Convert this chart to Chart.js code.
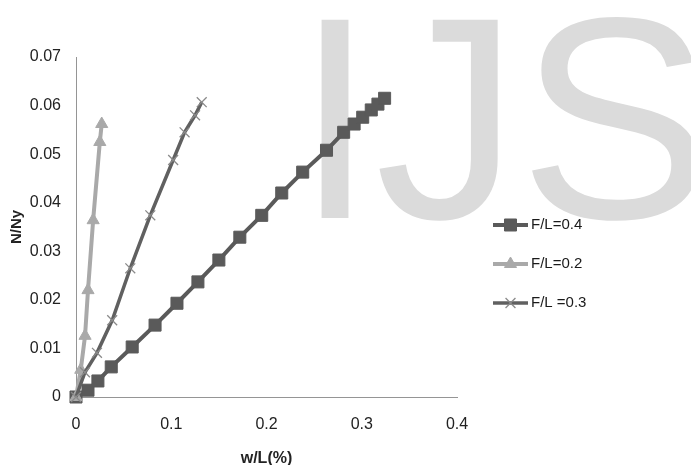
<!DOCTYPE html>
<html>
<head>
<meta charset="utf-8">
<title>N/Ny vs w/L</title>
<script src="https://cdn.jsdelivr.net/npm/chart.js@4/dist/chart.umd.min.js"></script>
<style>
    html, body { margin: 0; padding: 0; background: #fff; }
    #wrap { position: relative; width: 691px; height: 465px; overflow: hidden; }
    #mark { position: absolute; left: 0; top: 0; z-index: 0; }
    #plot { position: absolute; left: 0; top: 0; z-index: 1; }
</style>
</head>
<body>
<div id="wrap">
    <svg id="mark" width="691" height="465">
        <text x="295" y="218" font-family="Liberation Sans, Arial, sans-serif" font-size="288" fill="#dbdbdb">IJS</text>
    </svg>
    <canvas id="plot" width="691" height="465"></canvas>
</div>
<script>
// series labels
const seriesNames = ['F/L=0.4', 'F/L=0.2', 'F/L =0.3'];

// F/L = 0.4
const wL04 = [0, 0.0126, 0.023, 0.037, 0.059, 0.083, 0.106, 0.128, 0.150, 0.172, 0.195, 0.216, 0.238, 0.263, 0.281, 0.292, 0.301, 0.310, 0.317, 0.324];
const nNy04 = [0, 0.0014, 0.0033, 0.0062, 0.0103, 0.0148, 0.0193, 0.0237, 0.0282, 0.0329, 0.0374, 0.0420, 0.0463, 0.0508, 0.0545, 0.0562, 0.0576, 0.0591, 0.0603, 0.0615];

// F/L = 0.2
const wL02 = [0, 0.005, 0.0095, 0.0126, 0.018, 0.025, 0.027];
const nNy02 = [0, 0.0056, 0.0126, 0.0220, 0.0364, 0.0525, 0.0562];

// F/L = 0.3
const wL03 = [0, 0.0094, 0.022, 0.038, 0.057, 0.078, 0.102, 0.114, 0.125, 0.132];
const nNy03 = [0, 0.0051, 0.0091, 0.0158, 0.0265, 0.0374, 0.0488, 0.0545, 0.0580, 0.0607];

// axis tick labels
const xTickLabels = ['0', '0.1', '0.2', '0.3', '0.4'];
const yTickLabels = ['0', '0.01', '0.02', '0.03', '0.04', '0.05', '0.06', '0.07'];

const FONT = "'Liberation Sans', Arial, sans-serif";

function toPoints(xs, ys) {
    return xs.map((x, i) => ({ x: x, y: ys[i] }));
}

// legend drawn as line + marker, like the plotted series
const sideLegend = {
    id: 'sideLegend',
    afterDraw(chart) {
        const ctx = chart.ctx;
        const area = chart.chartArea;
        const x0 = area.right + 36;
        const x1 = x0 + 35;
        const rows = [225, 264, 303];
        ctx.save();
        chart.data.datasets.forEach((ds, i) => {
            const y = rows[i];
            ctx.strokeStyle = ds.borderColor;
            ctx.lineWidth = ds.borderWidth;
            ctx.beginPath();
            ctx.moveTo(x0, y);
            ctx.lineTo(x1, y);
            ctx.stroke();

            ctx.fillStyle = ds.pointBackgroundColor;
            ctx.strokeStyle = ds.pointBorderColor;
            ctx.lineWidth = ds.pointBorderWidth;
            Chart.helpers.drawPoint(ctx, {
                pointStyle: ds.pointStyle,
                radius: ds.pointRadius,
                borderWidth: ds.pointBorderWidth,
                rotation: 0
            }, (x0 + x1) / 2, y);

            ctx.fillStyle = '#1a1a1a';
            ctx.font = '15px ' + FONT;
            ctx.textAlign = 'left';
            ctx.textBaseline = 'middle';
            ctx.fillText(ds.label, x1 + 3, y);
        });
        ctx.restore();
    }
};

new Chart(document.getElementById('plot'), {
    type: 'line',
    data: {
        datasets: [
            {
                label: seriesNames[0],
                data: toPoints(wL04, nNy04),
                borderColor: '#5a5a5a',
                borderWidth: 4,
                pointStyle: 'rect',
                pointRadius: 8.5,
                pointBackgroundColor: '#5a5a5a',
                pointBorderColor: '#5a5a5a',
                pointBorderWidth: 1,
                clip: false,
                order: 3
            },
            {
                label: seriesNames[1],
                data: toPoints(wL02, nNy02),
                borderColor: '#a9a9a9',
                borderWidth: 4,
                pointStyle: 'triangle',
                pointRadius: 7,
                pointBackgroundColor: '#a9a9a9',
                pointBorderColor: '#a9a9a9',
                pointBorderWidth: 1,
                clip: false,
                order: 2
            },
            {
                label: seriesNames[2],
                data: toPoints(wL03, nNy03),
                borderColor: '#606060',
                borderWidth: 3.5,
                pointStyle: 'crossRot',
                pointRadius: 7,
                pointBackgroundColor: '#8a8a8a',
                pointBorderColor: '#8a8a8a',
                pointBorderWidth: 1.3,
                clip: false,
                order: 1
            }
        ]
    },
    options: {
        responsive: false,
        animation: false,
        tension: 0,
        layout: { padding: { top: 57, right: 234, left: 0, bottom: 0 } },
        plugins: {
            legend: { display: false },
            tooltip: { enabled: false }
        },
        scales: {
            x: {
                type: 'linear',
                min: 0,
                max: 0.4,
                afterFit: (scale) => { scale.height = 68; },
                grid: { display: false, drawTicks: false },
                border: { display: true, color: '#959595', width: 1 },
                ticks: {
                    stepSize: 0.1,
                    padding: 18,
                    color: '#222',
                    font: { family: FONT, size: 16 },
                    callback: (v, i) => xTickLabels[i]
                },
                title: {
                    display: true,
                    text: 'w/L(%)',
                    color: '#222',
                    font: { family: FONT, size: 16, weight: 'bold' },
                    padding: { top: 0, bottom: -3 }
                }
            },
            y: {
                min: 0,
                max: 0.07,
                afterFit: (scale) => { scale.width = 76; },
                grid: { display: false, drawTicks: false },
                border: { display: true, color: '#959595', width: 1 },
                ticks: {
                    stepSize: 0.01,
                    padding: 15,
                    color: '#222',
                    font: { family: FONT, size: 16 },
                    callback: (v, i) => yTickLabels[i]
                },
                title: {
                    display: true,
                    text: 'N/Ny',
                    color: '#222',
                    font: { family: FONT, size: 15, weight: 'bold' },
                    padding: { top: 8, bottom: 0 }
                }
            }
        }
    },
    plugins: [sideLegend]
});
</script>
</body>
</html>
